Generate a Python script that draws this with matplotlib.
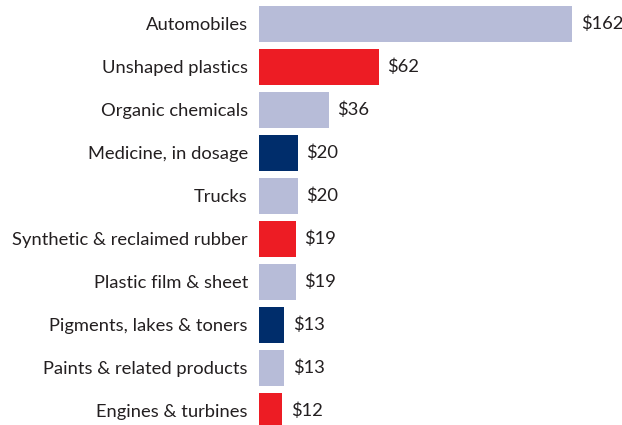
import matplotlib
matplotlib.use("Agg")
import matplotlib.pyplot as plt

categories = ["Automobiles", "Unshaped plastics", "Organic chemicals", "Medicine, in dosage",
              "Trucks", "Synthetic & reclaimed rubber", "Plastic film & sheet",
              "Pigments, lakes & toners", "Paints & related products", "Engines & turbines"]
values = [162, 62, 36, 20, 20, 19, 19, 13, 13, 12]
value_labels = ["$162", "$62", "$36", "$20", "$20", "$19", "$19", "$13", "$13", "$12"]
LIGHT, RED, NAVY = "#B7BCD8", "#ED1C24", "#002D6B"
colors = [LIGHT, RED, LIGHT, NAVY, LIGHT, RED, LIGHT, NAVY, LIGHT, RED]

plt.rcParams['font.family'] = ['Lato', 'DejaVu Sans']
W, H = 622, 425
fig = plt.figure(figsize=(W/100, H/100), dpi=100)
left_px = 259
ax = fig.add_axes([left_px/W, 0, 1 - left_px/W, 1])
px_per_unit = (572 - left_px) / 162
ax.set_xlim(0, (W - left_px) / px_per_unit)
pitch = 43.0
c0 = 24.0
ax.set_ylim((H - c0) / pitch, -c0 / pitch)

ys = list(range(len(categories)))
ax.barh(ys, values, height=0.85, color=colors)
for y, v, lab in zip(ys, values, value_labels):
    ax.text(v + 4.5, y, lab, va='center', ha='left', fontsize=13.2, color="#231F20")
ax.set_yticks(ys)
ax.set_yticklabels(categories, fontsize=13.2, color="#231F20")
ax.tick_params(axis='y', length=0, pad=8)
ax.set_xticks([])
for s in ax.spines.values():
    s.set_visible(False)
fig.savefig("out.png", dpi=100)
